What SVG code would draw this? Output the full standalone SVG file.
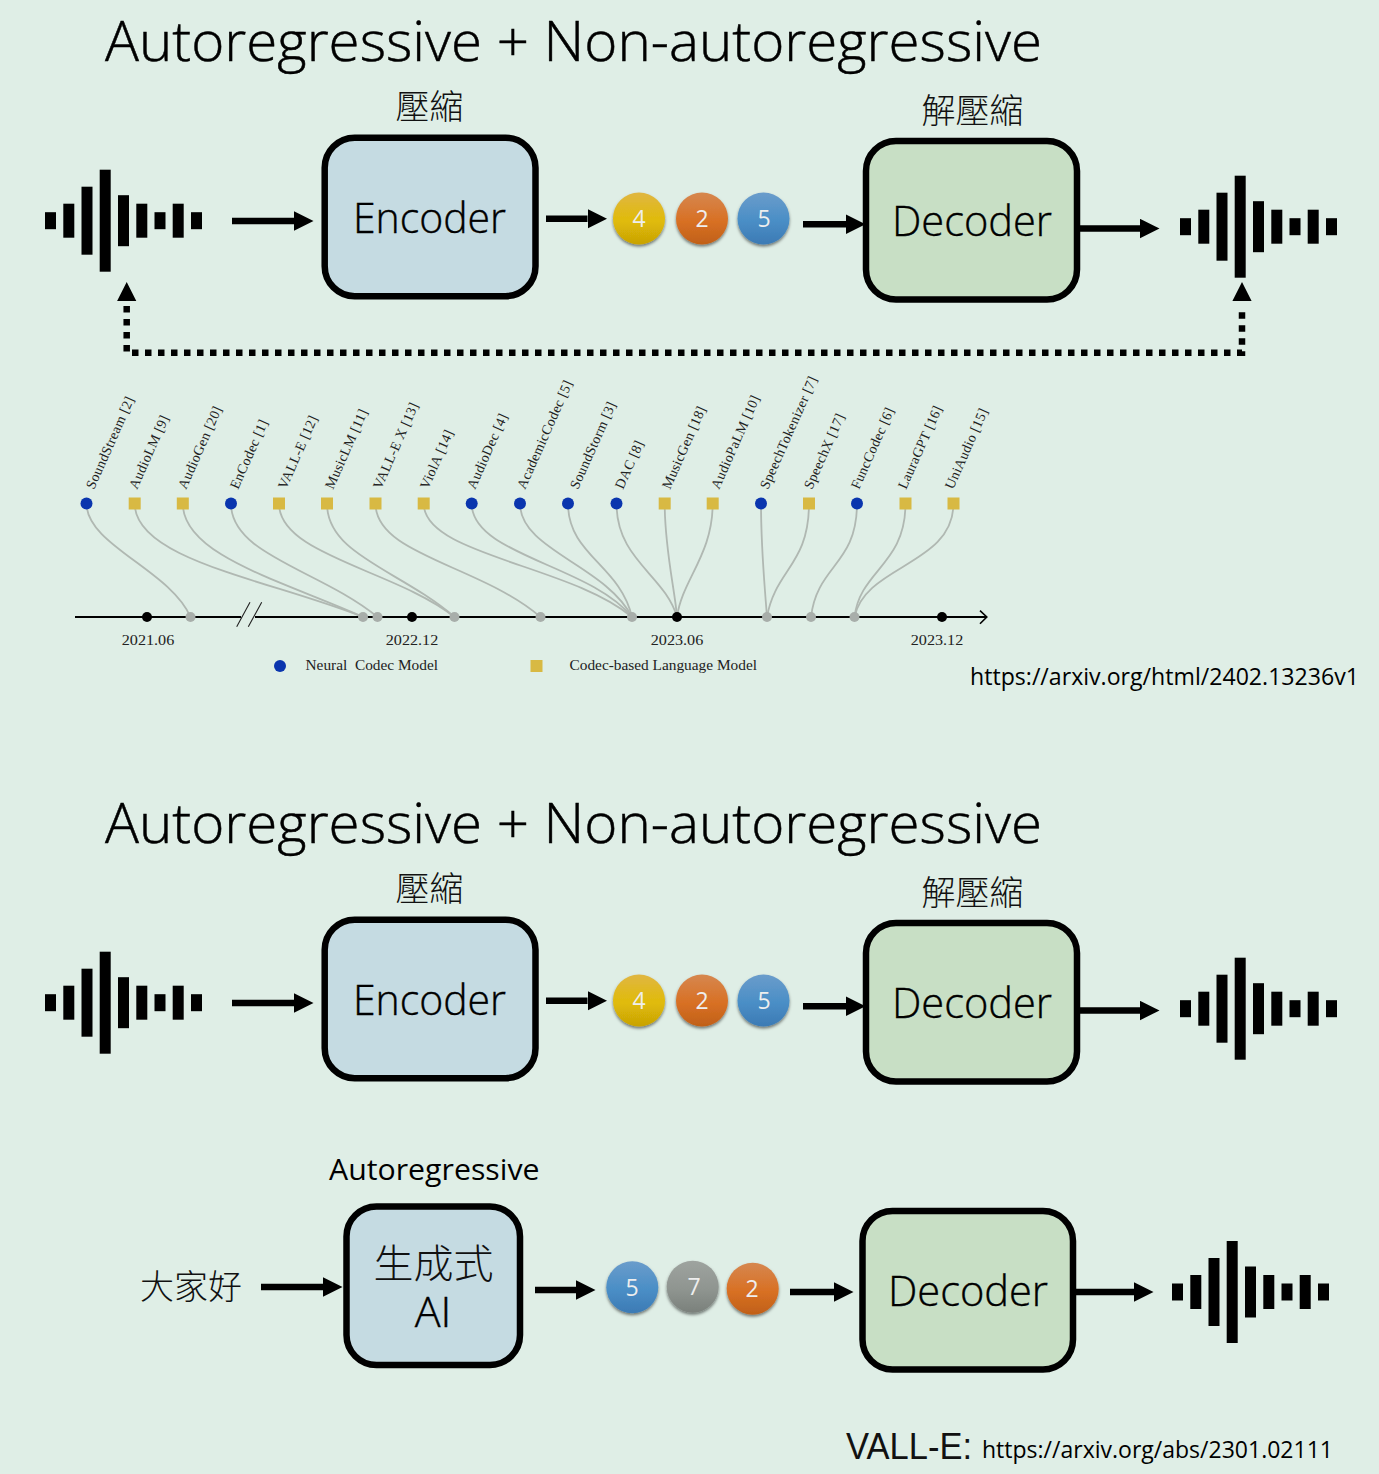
<svg xmlns="http://www.w3.org/2000/svg" width="1379" height="1474" viewBox="0 0 1379 1474">
<style>
.ui{font-family:"Open Sans","Noto Sans","Noto Sans CJK TC",sans-serif;font-weight:300;fill:#000}
.cjk{font-family:"Noto Sans CJK TC",sans-serif;font-weight:300;fill:#111;text-anchor:middle}
.title{font-size:56px;stroke:#000;stroke-width:.5}
.box{stroke:#000;stroke-width:6.5}
.enc{fill:#c5dbe2}
.dec{fill:#c8dfc5}
.bt{font-size:43px;text-anchor:middle;stroke:#000;stroke-width:.4}
.num{font-family:"Open Sans",sans-serif;font-size:23px;fill:#eee;text-anchor:middle}
.ar{stroke:#000;stroke-width:6.5;fill:none;marker-end:url(#ah)}
.lb{font-family:"Liberation Serif","DejaVu Serif",serif;font-size:14px;letter-spacing:.3px;fill:#222}
.sm{font-family:"Liberation Serif","DejaVu Serif",serif;font-size:14.5px;fill:#222}
.mid{text-anchor:middle}
.cv{stroke:#b0b8b2;stroke-width:1.8;fill:none}
.blue{fill:#0a35ae}
.gold{fill:#d8b943}
.gd{fill:#a8aeaa}
.bk{fill:#000}
</style>
<defs>
<marker id="ah" markerUnits="userSpaceOnUse" markerWidth="20" markerHeight="20" refX="0" refY="10" orient="auto"><path d="M0 0.3L19.5 10L0 19.7z" fill="#000"/></marker>
<linearGradient id="gy" x1="0" y1="0" x2="0" y2="1"><stop offset="0" stop-color="#e0b642"/><stop offset=".55" stop-color="#e0bb08"/><stop offset="1" stop-color="#c8a205"/></linearGradient>
<linearGradient id="go" x1="0" y1="0" x2="0" y2="1"><stop offset="0" stop-color="#d6874f"/><stop offset=".55" stop-color="#d87024"/><stop offset="1" stop-color="#c06018"/></linearGradient>
<linearGradient id="gb" x1="0" y1="0" x2="0" y2="1"><stop offset="0" stop-color="#6a9ccb"/><stop offset=".55" stop-color="#4a8ec6"/><stop offset="1" stop-color="#3c7ab4"/></linearGradient>
<linearGradient id="gg" x1="0" y1="0" x2="0" y2="1"><stop offset="0" stop-color="#9ea39f"/><stop offset=".55" stop-color="#8f9590"/><stop offset="1" stop-color="#7a807b"/></linearGradient>
<filter id="sh" x="-20%" y="-20%" width="140%" height="150%"><feDropShadow dx="0" dy="2" stdDeviation="1.6" flood-color="#000" flood-opacity=".5"/></filter>
<g id="wave" fill="#000">
<rect x="0" y="-8.5" width="11" height="17"/><rect x="18.3" y="-17" width="11" height="34"/><rect x="36.5" y="-34" width="11" height="68"/><rect x="54.7" y="-51" width="11" height="102"/><rect x="73" y="-25.5" width="11" height="51"/><rect x="91.3" y="-17" width="11" height="34"/><rect x="109.5" y="-8.5" width="11" height="17"/><rect x="127.7" y="-17" width="11" height="34"/><rect x="146" y="-8.5" width="11" height="17"/>
</g>
</defs>
<rect width="1379" height="1474" fill="#dfeee6"/>

<g id="title-1"><text class="ui title" x="105" y="61" textLength="937" lengthAdjust="spacingAndGlyphs">Autoregressive + Non-autoregressive</text></g>
<g id="wave-in-1"><use href="#wave" x="45" y="220.7"/></g>
<g id="encoder-1"><rect class="box enc" x="324.7" y="137.7" width="210.8" height="158.500" rx="30"/><text class="ui bt" x="429.500" y="233" textLength="153" lengthAdjust="spacingAndGlyphs">Encoder</text><text class="cjk" x="429.500" y="119" font-size="34">壓縮</text></g>
<g id="tokens-1" filter="url(#sh)"><circle cx="639" cy="218.5" r="26" fill="url(#gy)"/><circle cx="702" cy="218.5" r="26" fill="url(#go)"/><circle cx="763.500" cy="218.5" r="26" fill="url(#gb)"/></g>
<g id="tokens-1-text"><text class="num" x="639" y="227">4</text><text class="num" x="702" y="227">2</text><text class="num" x="764" y="227">5</text></g>
<g id="decoder-1"><rect class="box dec" x="866" y="141" width="211" height="158.500" rx="30"/><text class="ui bt" x="972" y="236" textLength="160" lengthAdjust="spacingAndGlyphs">Decoder</text><text class="cjk" x="972.500" y="122.500" font-size="34">解壓縮</text></g>
<g id="wave-out-1"><use href="#wave" x="1180" y="226.700"/></g>

<g id="connectors-1">
<path class="ar" d="M232 221H294"/><path class="ar" d="M546 218.700H587.500"/><path class="ar" d="M803 224.300H846"/><path class="ar" d="M1080 228.500H1140"/>
<path d="M126.700 306V352.700H1242V306" fill="none" stroke="#000" stroke-width="6.500" stroke-dasharray="6.500 6.500"/>
<path d="M126.700 282L136.300 301H117.100z M1242 282L1251.600 301H1232.400z" fill="#000"/>
</g>

<g id="timeline-links">
<path class="cv" d="M86.500 503.500C86.500 545 170 570 190.500 617"/>
<path class="cv" d="M134.700 503.500C134.700 560 270 580 363 617"/>
<path class="cv" d="M182.800 503.500C182.800 555 280 580 363 617"/>
<path class="cv" d="M231 503.500C231 555 320 570 377.500 617"/>
<path class="cv" d="M279 503.500C279 555 395 570 454.500 617"/>
<path class="cv" d="M327 503.500C327 555 400 570 454.500 617"/>
<path class="cv" d="M375.500 503.500C375.500 555 480 565 540.500 617"/>
<path class="cv" d="M423.700 503.500C423.700 555 570 565 632 617"/>
<path class="cv" d="M471.700 503.500C471.700 555 590 565 632 617"/>
<path class="cv" d="M520 503.500C520 550 605 565 632 617"/>
<path class="cv" d="M568 503.500C568 555 620 565 632 617"/>
<path class="cv" d="M616.500 503.500C616.500 560 665 575 677 617"/>
<path class="cv" d="M664.700 503.500C664.700 550 675 590 677 617"/>
<path class="cv" d="M712.700 503.500C712.700 555 682 580 677 617"/>
<path class="cv" d="M761 503.500C761 550 765 590 767 617"/>
<path class="cv" d="M809 503.500C809 565 775 570 767 617"/>
<path class="cv" d="M857 503.500C857 565 817 565 811 617"/>
<path class="cv" d="M905.500 503.500C905.500 565 860 570 854.500 617"/>
<path class="cv" d="M953.500 503.500C953.500 565 865 565 854.500 617"/>
</g>
<g id="timeline-axis">
<path d="M75 617H241M255 617H986" fill="none" stroke="#000" stroke-width="2"/>
<path d="M980 610.700L986.800 617L980 623.700" fill="none" stroke="#000" stroke-width="1.600"/>
<path d="M236.700 626.700L250 602.300M248.300 626.700L261.700 602.300" fill="none" stroke="#222" stroke-width="1.100"/>
<circle class="bk" cx="147" cy="617" r="5"/><circle class="bk" cx="412" cy="617" r="5"/><circle class="bk" cx="677" cy="617" r="5"/><circle class="bk" cx="942" cy="617" r="5"/>
<circle class="gd" cx="190.500" cy="617" r="5"/><circle class="gd" cx="363" cy="617" r="5"/><circle class="gd" cx="377.500" cy="617" r="5"/><circle class="gd" cx="454.500" cy="617" r="5"/><circle class="gd" cx="540.500" cy="617" r="5"/><circle class="gd" cx="632" cy="617" r="5"/><circle class="gd" cx="767" cy="617" r="5"/><circle class="gd" cx="811" cy="617" r="5"/><circle class="gd" cx="854.500" cy="617" r="5"/>
<text class="sm mid" x="148" y="645" textLength="52.500" lengthAdjust="spacingAndGlyphs">2021.06</text><text class="sm mid" x="412" y="645" textLength="52.500" lengthAdjust="spacingAndGlyphs">2022.12</text><text class="sm mid" x="677" y="645" textLength="52.500" lengthAdjust="spacingAndGlyphs">2023.06</text><text class="sm mid" x="937" y="645" textLength="52.500" lengthAdjust="spacingAndGlyphs">2023.12</text>
</g>
<g id="timeline-nodes">
<g id="n1"><circle class="blue" cx="86.500" cy="503.500" r="6"/><text class="lb" transform="translate(94 490) rotate(-66)">SoundStream [2]</text></g>
<g id="n2"><rect class="gold" x="128.700" y="497.500" width="12" height="12"/><text class="lb" transform="translate(137 490) rotate(-66)">AudioLM [9]</text></g>
<g id="n3"><rect class="gold" x="176.800" y="497.500" width="12" height="12"/><text class="lb" transform="translate(186 490) rotate(-66)">AudioGen [20]</text></g>
<g id="n4"><circle class="blue" cx="231" cy="503.500" r="6"/><text class="lb" transform="translate(238 490) rotate(-66)">EnCodec [1]</text></g>
<g id="n5"><rect class="gold" x="273" y="497.500" width="12" height="12"/><text class="lb" transform="translate(286 490) rotate(-66)">VALL-E [12]</text></g>
<g id="n6"><rect class="gold" x="321" y="497.500" width="12" height="12"/><text class="lb" transform="translate(333 490) rotate(-66)">MusicLM [11]</text></g>
<g id="n7"><rect class="gold" x="369.500" y="497.500" width="12" height="12"/><text class="lb" transform="translate(381 490) rotate(-66)">VALL-E X [13]</text></g>
<g id="n8"><rect class="gold" x="417.700" y="497.500" width="12" height="12"/><text class="lb" transform="translate(428 490) rotate(-66)">ViolA [14]</text></g>
<g id="n9"><circle class="blue" cx="471.700" cy="503.500" r="6"/><text class="lb" transform="translate(475 490) rotate(-66)">AudioDec [4]</text></g>
<g id="n10"><circle class="blue" cx="520" cy="503.500" r="6"/><text class="lb" transform="translate(525 490) rotate(-66)">AcademicCodec [5]</text></g>
<g id="n11"><circle class="blue" cx="568" cy="503.500" r="6"/><text class="lb" transform="translate(578 490) rotate(-66)">SoundStorm [3]</text></g>
<g id="n12"><circle class="blue" cx="616.500" cy="503.500" r="6"/><text class="lb" transform="translate(623 490) rotate(-66)">DAC [8]</text></g>
<g id="n13"><rect class="gold" x="658.700" y="497.500" width="12" height="12"/><text class="lb" transform="translate(670 490) rotate(-66)">MusicGen [18]</text></g>
<g id="n14"><rect class="gold" x="706.700" y="497.500" width="12" height="12"/><text class="lb" transform="translate(719 490) rotate(-66)">AudioPaLM [10]</text></g>
<g id="n15"><circle class="blue" cx="761" cy="503.500" r="6"/><text class="lb" transform="translate(768 490) rotate(-66)">SpeechTokenizer [7]</text></g>
<g id="n16"><rect class="gold" x="803" y="497.500" width="12" height="12"/><text class="lb" transform="translate(812 490) rotate(-66)">SpeechX [17]</text></g>
<g id="n17"><circle class="blue" cx="857" cy="503.500" r="6"/><text class="lb" transform="translate(859 490) rotate(-66)">FuncCodec [6]</text></g>
<g id="n18"><rect class="gold" x="899.500" y="497.500" width="12" height="12"/><text class="lb" transform="translate(906 490) rotate(-66)">LauraGPT [16]</text></g>
<g id="n19"><rect class="gold" x="947.500" y="497.500" width="12" height="12"/><text class="lb" transform="translate(953 490) rotate(-66)">UniAudio [15]</text></g>
</g>
<g id="legend">
<circle class="blue" cx="280" cy="666" r="6"/><text class="sm" x="305.500" y="670" xml:space="preserve" textLength="132.500" lengthAdjust="spacingAndGlyphs">Neural  Codec Model</text>
<rect class="gold" x="530.500" y="660" width="12" height="12"/><text class="sm" x="569.500" y="670" textLength="187.500" lengthAdjust="spacingAndGlyphs">Codec-based Language Model</text>
</g>
<g id="url-1"><text class="ui" x="970" y="685" font-size="24" style="font-weight:400" textLength="389" lengthAdjust="spacingAndGlyphs">https://arxiv.org/html/2402.13236v1</text></g>

<g id="title-2"><text class="ui title" x="105" y="843" textLength="937" lengthAdjust="spacingAndGlyphs">Autoregressive + Non-autoregressive</text></g>
<g id="wave-in-2"><use href="#wave" x="45" y="1002.700"/></g>
<g id="encoder-2"><rect class="box enc" x="324.7" y="919.7" width="210.8" height="158.500" rx="30"/><text class="ui bt" x="429.500" y="1015" textLength="153" lengthAdjust="spacingAndGlyphs">Encoder</text><text class="cjk" x="429.500" y="901" font-size="34">壓縮</text></g>
<g id="tokens-2" filter="url(#sh)"><circle cx="639" cy="1000.500" r="26" fill="url(#gy)"/><circle cx="702" cy="1000.500" r="26" fill="url(#go)"/><circle cx="763.500" cy="1000.500" r="26" fill="url(#gb)"/></g>
<g id="tokens-2-text"><text class="num" x="639" y="1009">4</text><text class="num" x="702" y="1009">2</text><text class="num" x="764" y="1009">5</text></g>
<g id="decoder-2"><rect class="box dec" x="866" y="923" width="211" height="158.500" rx="30"/><text class="ui bt" x="972" y="1018" textLength="160" lengthAdjust="spacingAndGlyphs">Decoder</text><text class="cjk" x="972.500" y="904.500" font-size="34">解壓縮</text></g>
<g id="wave-out-2"><use href="#wave" x="1180" y="1008.700"/></g>
<g id="connectors-2">
<path class="ar" d="M232 1003H294"/><path class="ar" d="M546 1000.700H587.500"/><path class="ar" d="M803 1006.300H846"/><path class="ar" d="M1080 1010.500H1140"/>
</g>

<g id="label-ar"><text class="ui" x="329" y="1180" font-size="30" style="font-weight:400" textLength="210.500" lengthAdjust="spacingAndGlyphs">Autoregressive</text></g>
<g id="input-text"><text class="cjk" x="191" y="1299" font-size="34">大家好</text></g>
<g id="generator"><rect class="box enc" x="346.500" y="1206.500" width="173.500" height="158.500" rx="30"/><text class="cjk" x="433.500" y="1278" font-size="40">生成式</text><text class="ui bt" x="433" y="1327">AI</text></g>
<g id="tokens-3" filter="url(#sh)"><circle cx="632.300" cy="1287.300" r="26" fill="url(#gb)"/><circle cx="692.700" cy="1286.700" r="26" fill="url(#gg)"/><circle cx="752.700" cy="1288.700" r="26" fill="url(#go)"/></g>
<g id="tokens-3-text"><text class="num" x="632" y="1296">5</text><text class="num" x="694" y="1295">7</text><text class="num" x="752" y="1297">2</text></g>
<g id="decoder-3"><rect class="box dec" x="862.500" y="1211" width="210.500" height="158.500" rx="30"/><text class="ui bt" x="968" y="1306" textLength="160" lengthAdjust="spacingAndGlyphs">Decoder</text></g>
<g id="wave-out-3"><use href="#wave" x="1172" y="1292"/></g>
<g id="connectors-3">
<path class="ar" d="M261 1287H323"/><path class="ar" d="M535 1290H576"/><path class="ar" d="M790 1292H834"/><path class="ar" d="M1076 1292H1134"/>
</g>
<g id="credit"><text x="846" y="1459" font-family="Liberation Sans,sans-serif" font-size="36" fill="#111" textLength="126" lengthAdjust="spacingAndGlyphs">VALL-E:</text><text class="ui" x="982" y="1458" font-size="24" style="font-weight:400" textLength="351" lengthAdjust="spacingAndGlyphs">https://arxiv.org/abs/2301.02111</text></g>
</svg>
